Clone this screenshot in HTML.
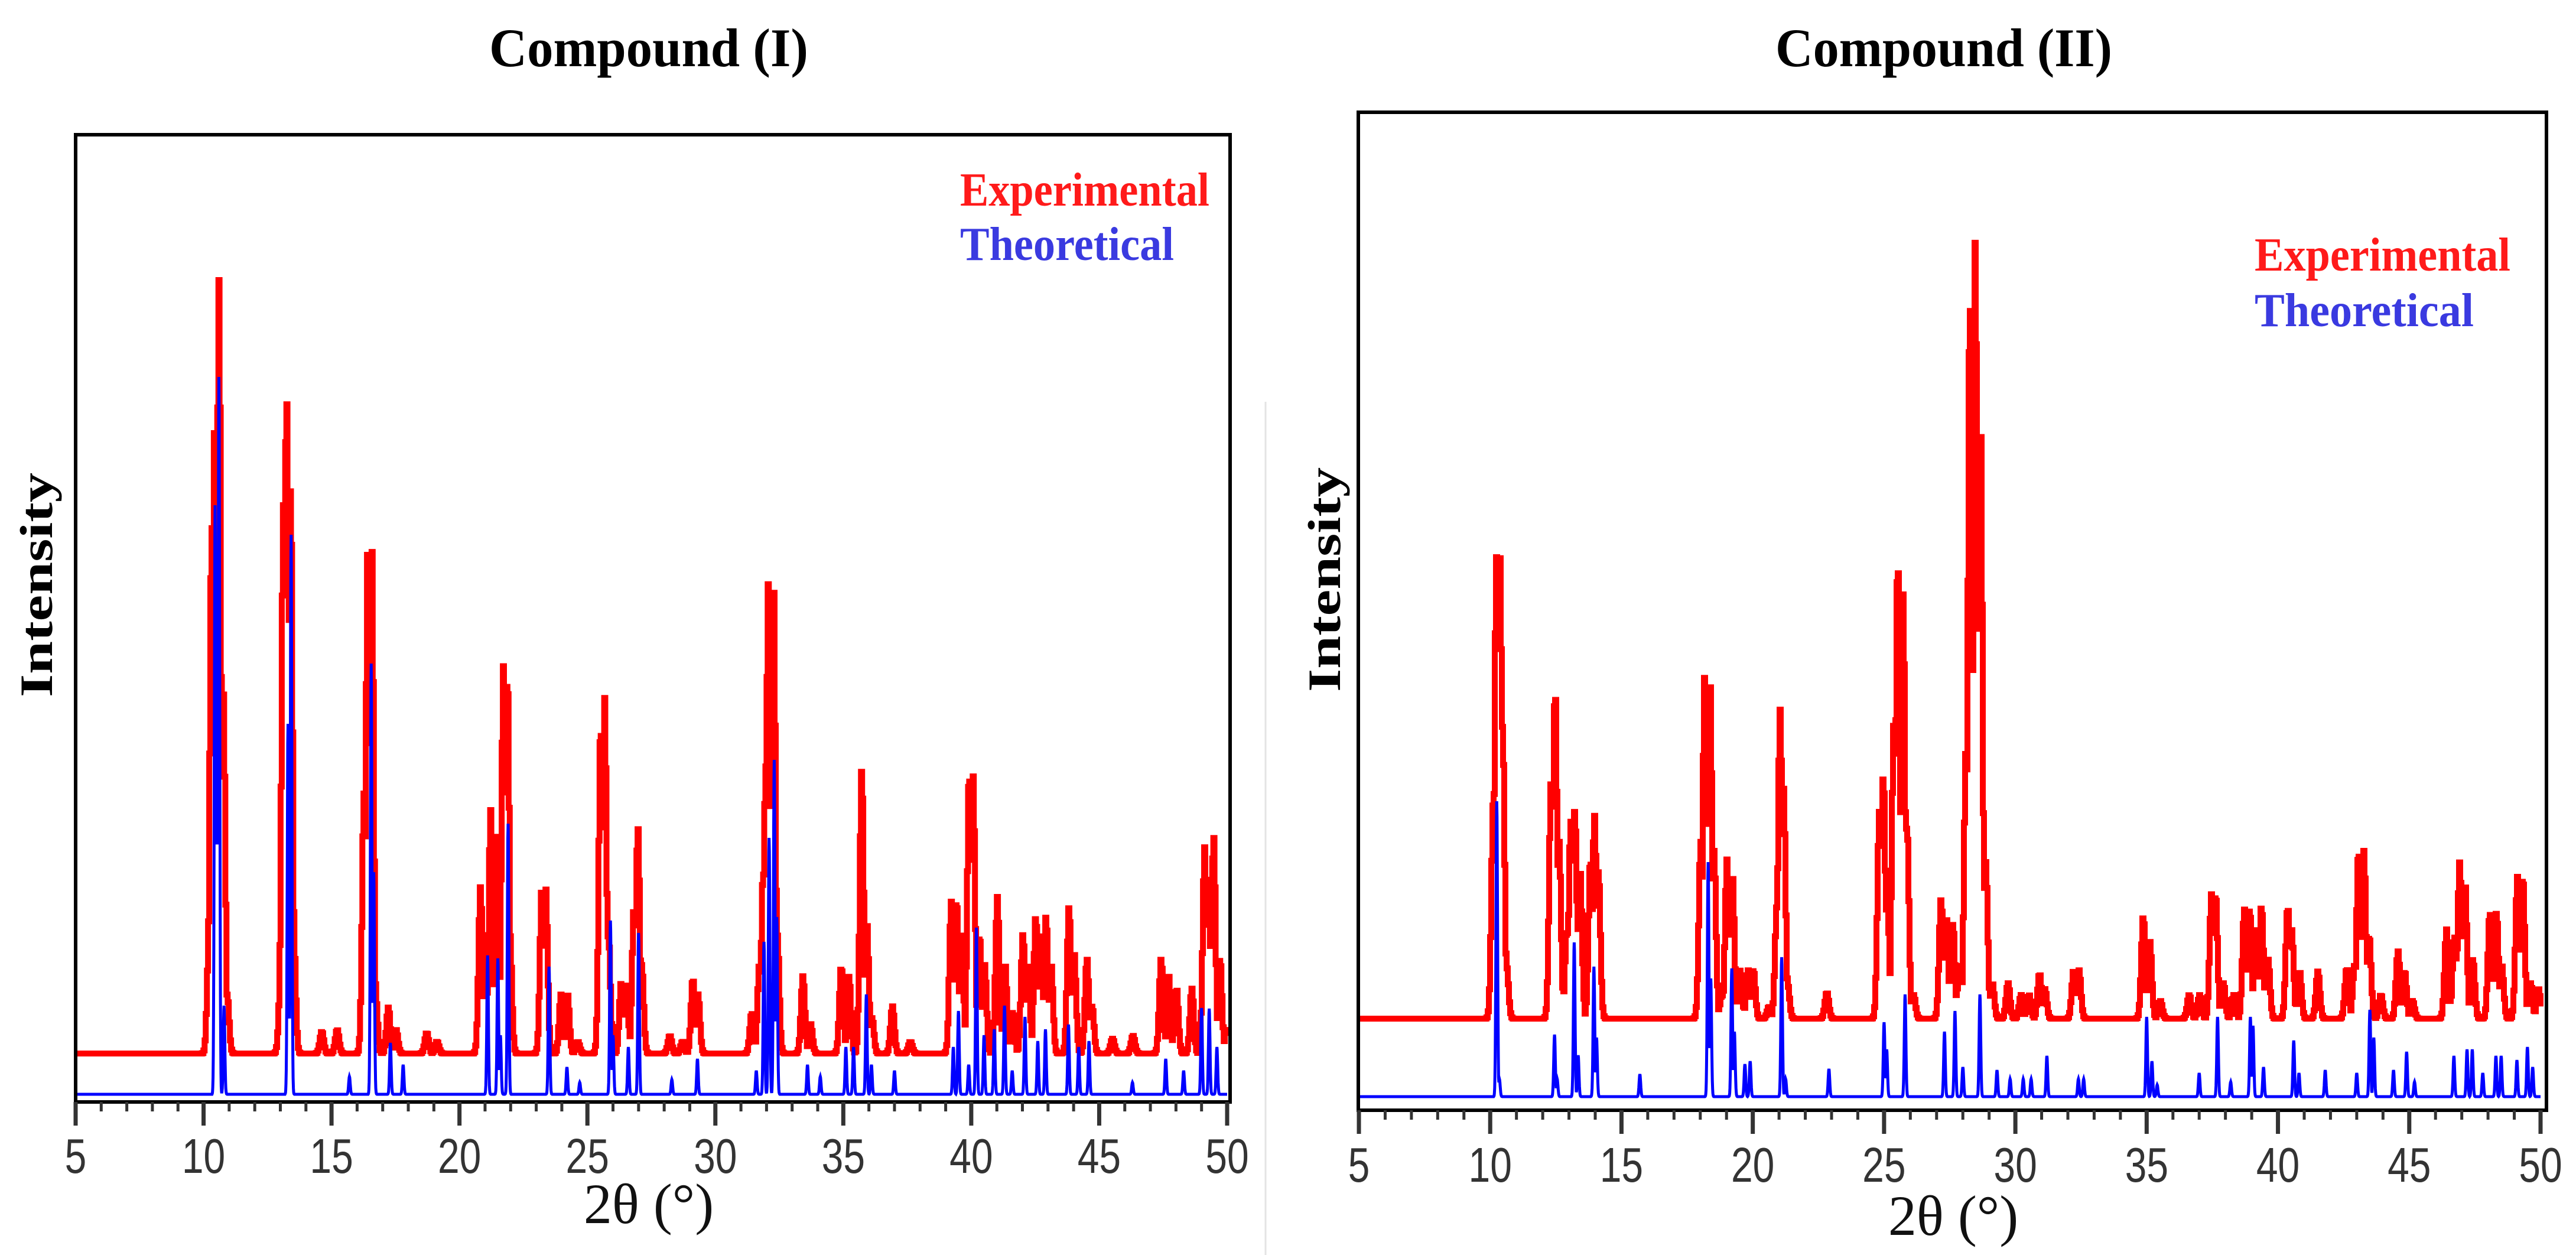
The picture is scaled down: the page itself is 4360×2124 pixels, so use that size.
<!DOCTYPE html>
<html><head><meta charset="utf-8"><title>PXRD Compound I and II</title>
<style>
html,body{margin:0;padding:0;background:#fff;}
svg{display:block;}
</style></head>
<body>
<svg id="chart" width="4360" height="2124" viewBox="0 0 4360 2124" xmlns="http://www.w3.org/2000/svg">
<rect x="0" y="0" width="4360" height="2124" fill="#fff"/>
<line x1="2142" y1="680" x2="2142" y2="2124" stroke="#e4e4e4" stroke-width="3"/>
<text x="1098" y="112" text-anchor="middle" font-family="Liberation Serif, serif" font-weight="bold" font-size="92" textLength="540" lengthAdjust="spacingAndGlyphs">Compound (I)</text>
<text x="3290" y="112" text-anchor="middle" font-family="Liberation Serif, serif" font-weight="bold" font-size="92" textLength="570" lengthAdjust="spacingAndGlyphs">Compound (II)</text>
<g id="p1"></g>
<g id="p2"></g>
</svg>
<script>
// ---- data: peaks [2theta, intensity] ----
const ticks = [5,10,15,20,25,30,35,40,45,50];
const exp1 = [[10.2,217],[10.3,897],[10.42,1088],[10.58,1309],[10.75,613],[10.9,100],[13.0,144],[13.1,928],[13.22,1121],[13.38,960],[13.5,200],[14.6,37],[15.2,40],[16.25,440],[16.4,861],[16.55,866],[16.7,100],[17.2,78],[17.5,40],[18.7,35],[19.1,20],[20.8,282],[21.0,150],[21.2,412],[21.45,380],[21.7,657],[21.85,643],[21.95,200],[23.2,282],[23.35,280],[23.95,100],[24.2,100],[24.6,20],[25.5,557],[25.65,603],[25.8,200],[26.3,120],[26.5,116],[26.8,248],[26.95,383],[27.1,150],[28.2,30],[28.7,20],[29.1,126],[29.3,100],[31.4,68],[31.7,150],[31.85,309],[31.95,487],[32.05,796],[32.25,808],[32.4,200],[33.4,131],[33.7,50],[34.9,147],[35.2,130],[35.7,481],[35.9,220],[36.1,60],[36.9,80],[37.6,20],[39.2,257],[39.4,260],[39.6,200],[39.9,477],[40.05,470],[40.3,200],[40.5,150],[41.0,265],[41.3,150],[41.6,70],[42.0,202],[42.2,150],[42.5,232],[42.7,200],[42.9,232],[43.1,150],[43.8,248],[44.0,170],[44.5,160],[44.7,80],[45.5,25],[46.3,30],[47.4,160],[47.7,130],[48.0,110],[48.6,110],[49.1,349],[49.25,300],[49.45,368],[49.7,160],[49.95,40]];
const theo1 = [[10.45,997],[10.6,1214],[10.52,697],[10.8,150],[13.3,627],[13.42,947],[15.7,30],[16.55,729],[16.65,376],[17.3,87],[17.8,50],[21.1,235],[21.5,230],[21.6,100],[21.9,458],[23.5,216],[24.2,46],[24.7,20],[25.9,294],[26.0,100],[26.6,80],[27.0,273],[28.3,25],[29.3,60],[31.6,40],[31.9,258],[32.1,434],[32.3,566],[32.4,300],[33.6,50],[34.1,30],[35.1,80],[35.4,80],[35.9,169],[36.1,50],[37.0,40],[39.3,80],[39.5,141],[39.9,50],[40.2,282],[40.5,100],[40.9,110],[41.3,150],[41.6,40],[42.1,131],[42.6,90],[42.9,110],[43.8,118],[44.2,80],[44.6,90],[46.3,20],[47.6,60],[48.3,40],[49.0,146],[49.3,145],[49.6,80]];
const exp2 = [[10.1,368],[10.22,781],[10.35,781],[10.45,495],[10.6,90],[12.3,400],[12.45,559],[12.6,300],[12.9,150],[13.05,334],[13.2,353],[13.4,250],[13.8,270],[13.95,344],[14.1,250],[18.0,300],[18.15,582],[18.35,572],[18.5,284],[18.8,40],[19.0,270],[19.2,245],[19.5,82],[19.8,82],[20.0,82],[20.6,20],[20.9,192],[21.02,523],[21.15,390],[21.3,60],[22.8,44],[24.8,350],[24.95,413],[25.1,200],[25.35,500],[25.5,781],[25.7,718],[25.85,328],[26.1,40],[27.15,202],[27.35,170],[27.6,160],[27.85,90],[28.1,457],[28.25,1222],[28.45,1316],[28.65,1020],[28.85,265],[29.1,60],[29.7,60],[30.2,40],[30.5,40],[30.9,76],[31.1,50],[32.2,82],[32.4,82],[34.85,173],[35.1,130],[35.5,30],[36.6,40],[37.0,40],[37.45,211],[37.6,211],[37.9,60],[38.3,40],[38.7,185],[38.9,185],[39.15,150],[39.35,190],[39.6,100],[40.35,189],[40.5,150],[40.8,80],[41.5,80],[42.6,85],[42.9,90],[43.05,284],[43.25,284],[43.45,140],[43.9,40],[44.55,114],[44.8,80],[45.1,30],[46.4,151],[46.7,140],[46.9,265],[47.1,230],[47.4,100],[48.05,179],[48.3,179],[48.5,90],[49.1,240],[49.3,240],[49.6,60],[49.9,50]];
const theo2 = [[10.25,500],[10.35,30],[12.45,105],[12.55,30],[13.2,261],[13.35,70],[13.95,220],[14.05,100],[15.7,38],[18.3,397],[18.4,200],[19.2,217],[19.3,110],[19.7,55],[19.9,60],[21.1,236],[21.25,30],[22.9,47],[25.0,126],[25.1,80],[25.8,173],[27.3,110],[27.7,145],[28.0,50],[28.65,173],[29.3,45],[29.8,30],[30.3,30],[30.6,30],[31.2,69],[32.4,30],[32.6,30],[35.0,135],[35.2,60],[35.4,20],[37.0,40],[37.7,135],[38.2,25],[38.95,135],[39.05,120],[39.45,50],[40.6,95],[40.8,40],[41.8,45],[43.0,40],[43.5,147],[43.65,100],[44.4,45],[44.9,76],[45.2,25],[46.7,69],[47.2,80],[47.4,80],[47.8,40],[48.3,69],[48.5,69],[49.1,62],[49.5,84],[49.7,50]];

const NS = 'http://www.w3.org/2000/svg';
function mk(parent, tag, attrs, txt){
  const e = document.createElementNS(NS, tag);
  for (const k in attrs) e.setAttribute(k, attrs[k]);
  if (txt !== undefined) e.textContent = txt;
  parent.appendChild(e);
  return e;
}
function profile(peaks, step, sig, xs, ys, stepped){
  let d = '';
  let prevY = null;
  for (let t = 5; t <= 50.0001; t += step){
    let v = 0;
    for (const [p,h] of peaks){ const z=(t-p)/sig; if (Math.abs(z)<4){ const g=h*Math.exp(-z*z/2); if(g>v) v=g; } }
    const X = xs(t), Y = ys(v);
    if (!d) d = 'M' + X.toFixed(1) + ' ' + Y.toFixed(1);
    else if (stepped) d += ' L' + X.toFixed(1) + ' ' + prevY.toFixed(1) + ' L' + X.toFixed(1) + ' ' + Y.toFixed(1);
    else d += ' L' + X.toFixed(1) + ' ' + Y.toFixed(1);
    prevY = Y;
  }
  return d;
}
function panel(g, cfg){
  const xs = t => cfg.x0 + (t-5)*(cfg.x1-cfg.x0)/45;
  const yr = v => cfg.redBase - v;
  const yb = v => cfg.blueBase - v;
  const r = mk(g,'path',{d:profile(cfg.exp,0.045,0.075,xs,yr,true),fill:'none',stroke:'#ff0000','stroke-width':10,'stroke-linejoin':'miter'});
  
  
  const b = mk(g,'path',{d:profile(cfg.theo,0.01,0.03,xs,yb,false),fill:'none',stroke:'#0000ff','stroke-width':5});
  
  
  const box = mk(g,'rect',{x:cfg.bx0,y:cfg.by0,width:cfg.bx1-cfg.bx0,height:cfg.axisY-cfg.by0,fill:'none',stroke:'#000','stroke-width':6});
  
  
  for (let t=5;t<=50;t++){
    const major = t%5===0;
    const tk = mk(g,'line',{x1:xs(t),x2:xs(t),y1:cfg.axisY,y2:cfg.axisY+(major?40:16),stroke:'#333','stroke-width':major?7:5});
    
    
  }
  for (const t of ticks){
    const lb = mk(g,'text',{x:xs(t),y:cfg.labelY,'text-anchor':'middle','font-family':'Liberation Sans, sans-serif','font-size':66,fill:'#333',transform:`translate(${xs(t)} ${cfg.labelY}) scale(1 1.25) translate(${-xs(t)} ${-cfg.labelY})`},String(t));
    
    
  }
  const xt = mk(g,'text',{x:cfg.xtX,y:cfg.xtY,'text-anchor':'middle','font-family':'Liberation Serif, serif','font-size':96,fill:'#111'},'2θ (°)');
  
  
  const yt = mk(g,'text',{x:0,y:0,'text-anchor':'middle','font-family':'Liberation Serif, serif','font-weight':'bold','font-size':78,fill:'#000',textLength:380,lengthAdjust:'spacingAndGlyphs',transform:`translate(${cfg.ytX} ${cfg.ytY}) rotate(-90)`},'Intensity');
  
  
  const le = mk(g,'text',{x:cfg.lgX,y:cfg.lgY,'font-family':'Liberation Serif, serif','font-weight':'bold','font-size':80,fill:'#ff1a1a',textLength:cfg.lgW1,lengthAdjust:'spacingAndGlyphs'},'Experimental');
  
  
  const lt = mk(g,'text',{x:cfg.lgX,y:cfg.lgY+cfg.lgDy,'font-family':'Liberation Serif, serif','font-weight':'bold','font-size':80,fill:'#3a3ae0',textLength:cfg.lgW2,lengthAdjust:'spacingAndGlyphs'},'Theoretical');
  
  
}
panel(document.getElementById('p1'),{x0:128,x1:2077,bx0:128,bx1:2082,by0:228,axisY:1865,redBase:1783,blueBase:1852,exp:exp1,theo:theo1,labelY:1985,xtX:1098,xtY:2070,ytX:88,ytY:990,lgX:1625,lgY:348,lgDy:92,lgW1:422,lgW2:362});
panel(document.getElementById('p2'),{x0:2300,x1:4300,bx0:2299,bx1:4310,by0:190,axisY:1879,redBase:1724,blueBase:1856,exp:exp2,theo:theo2,labelY:2000,xtX:3306,xtY:2090,ytX:2268,ytY:981,lgX:3816,lgY:458,lgDy:94,lgW1:433,lgW2:371});
</script>
</body></html>
